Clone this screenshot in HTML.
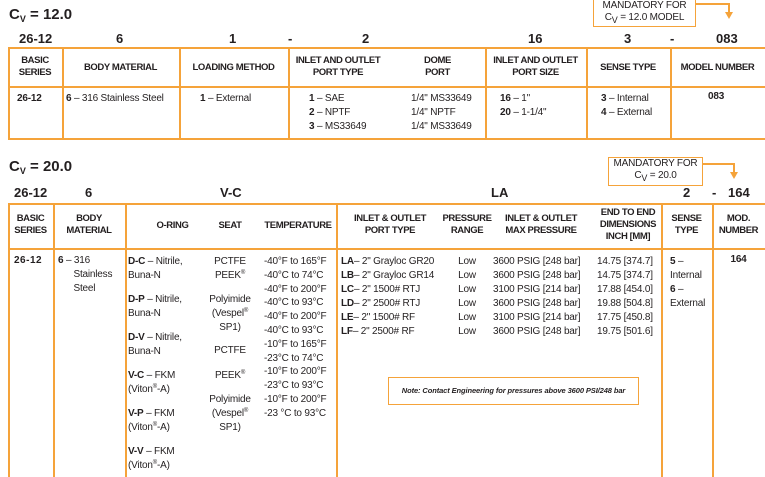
<!DOCTYPE html>
<html><head><meta charset="utf-8">
<style>
body{margin:0;background:#fff;}
#c{position:relative;width:765px;height:477px;overflow:hidden;font-family:"Liberation Sans",sans-serif;color:#231f20;font-size:10px;letter-spacing:-0.2px;}
.t{position:absolute;white-space:nowrap;line-height:14px;}
.b{font-weight:bold;}
.hd{font-weight:bold;font-size:9.5px;letter-spacing:-0.4px;}
.c{text-align:center;}
.h{position:absolute;background:#f5a33a;height:1.5px;}
.v{position:absolute;background:#f5a33a;width:1.5px;}
.big{font-size:15px;font-weight:bold;letter-spacing:0;}
.code{font-size:13px;font-weight:bold;letter-spacing:0;}
sub{font-size:9px;vertical-align:-3px;line-height:0;}
sup{font-size:6px;vertical-align:4px;line-height:0;}
</style></head><body><div id="c">

<div class="t big" style="left:9px;top:6px;line-height:18px;">C<sub>V</sub> = 12.0</div>
<div class="t code" style="left:19px;top:32px;">26-12</div>
<div class="t code" style="left:116px;top:32px;">6</div>
<div class="t code" style="left:229px;top:32px;">1</div>
<div class="t code" style="left:288px;top:32px;">-</div>
<div class="t code" style="left:362px;top:32px;">2</div>
<div class="t code" style="left:528px;top:32px;">16</div>
<div class="t code" style="left:624px;top:32px;">3</div>
<div class="t code" style="left:670px;top:32px;">-</div>
<div class="t code" style="left:716px;top:32px;">083</div>

<div style="position:absolute;left:593px;top:-2px;width:103px;height:29px;border:1.5px solid #f5a33a;box-sizing:border-box;"></div>
<div class="t c" style="left:593px;top:0px;width:103px;line-height:12px;">MANDATORY FOR<br>C<sub>V</sub> = 12.0 MODEL</div>
<div class="h" style="left:696px;top:3px;width:33px;"></div>
<div class="v" style="left:728px;top:3px;height:10px;"></div>
<div style="position:absolute;left:725px;top:12px;width:0;height:0;border-left:4px solid transparent;border-right:4px solid transparent;border-top:7px solid #f5a33a;"></div>

<div class="h" style="left:8px;top:47px;width:757px;"></div>
<div class="h" style="left:8px;top:86px;width:757px;"></div>
<div class="h" style="left:8px;top:138px;width:757px;"></div>
<div class="v" style="left:8px;top:47px;height:92px;"></div>
<div class="v" style="left:62px;top:47px;height:92px;"></div>
<div class="v" style="left:179px;top:47px;height:92px;"></div>
<div class="v" style="left:288px;top:47px;height:92px;"></div>
<div class="v" style="left:485px;top:47px;height:92px;"></div>
<div class="v" style="left:586px;top:47px;height:92px;"></div>
<div class="v" style="left:670px;top:47px;height:92px;"></div>

<div class="t hd c" style="left:8px;top:55px;width:54px;line-height:12px;">BASIC<br>SERIES</div>
<div class="t hd c" style="left:62px;top:61px;width:117px;">BODY MATERIAL</div>
<div class="t hd c" style="left:179px;top:61px;width:109px;">LOADING METHOD</div>
<div class="t hd c" style="left:288px;top:55px;width:100px;line-height:12px;">INLET AND OUTLET<br>PORT TYPE</div>
<div class="t hd c" style="left:390px;top:55px;width:95px;line-height:12px;">DOME<br>PORT</div>
<div class="t hd c" style="left:485px;top:55px;width:101px;line-height:12px;">INLET AND OUTLET<br>PORT SIZE</div>
<div class="t hd c" style="left:586px;top:61px;width:84px;">SENSE TYPE</div>
<div class="t hd c" style="left:670px;top:61px;width:95px;">MODEL NUMBER</div>

<div class="t b" style="left:17px;top:92px;">26-12</div>
<div class="t" style="left:66px;top:92px;"><b>6</b> &ndash; 316 Stainless Steel</div>
<div class="t" style="left:200px;top:92px;"><b>1</b> &ndash; External</div>
<div class="t" style="left:309px;top:92px;"><b>1</b> &ndash; SAE<br><b>2</b> &ndash; NPTF<br><b>3</b> &ndash; MS33649</div>
<div class="t" style="left:411px;top:92px;">1/4" MS33649<br>1/4" NPTF<br>1/4" MS33649</div>
<div class="t" style="left:500px;top:92px;"><b>16</b> &ndash; 1"<br><b>20</b> &ndash; 1-1/4"</div>
<div class="t" style="left:601px;top:92px;"><b>3</b> &ndash; Internal<br><b>4</b> &ndash; External</div>
<div class="t b" style="left:708px;top:90px;">083</div>

<div class="t big" style="left:9px;top:158px;line-height:18px;">C<sub>V</sub> = 20.0</div>
<div class="t code" style="left:14px;top:186px;">26-12</div>
<div class="t code" style="left:85px;top:186px;">6</div>
<div class="t code" style="left:220px;top:186px;">V-C</div>
<div class="t code" style="left:491px;top:186px;">LA</div>
<div class="t code" style="left:683px;top:186px;">2</div>
<div class="t code" style="left:712px;top:186px;">-</div>
<div class="t code" style="left:728px;top:186px;">164</div>

<div style="position:absolute;left:608px;top:157px;width:95px;height:29px;border:1.5px solid #f5a33a;box-sizing:border-box;"></div>
<div class="t c" style="left:608px;top:158px;width:95px;line-height:12px;">MANDATORY FOR<br>C<sub>V</sub> = 20.0</div>
<div class="h" style="left:702px;top:163px;width:32px;"></div>
<div class="v" style="left:733px;top:163px;height:10px;"></div>
<div style="position:absolute;left:730px;top:172px;width:0;height:0;border-left:4px solid transparent;border-right:4px solid transparent;border-top:7px solid #f5a33a;"></div>

<div class="h" style="left:8px;top:203px;width:757px;"></div>
<div class="h" style="left:8px;top:248px;width:757px;"></div>
<div class="v" style="left:8px;top:203px;height:274px;"></div>
<div class="v" style="left:53px;top:203px;height:274px;"></div>
<div class="v" style="left:125px;top:203px;height:274px;"></div>
<div class="v" style="left:336px;top:203px;height:274px;"></div>
<div class="v" style="left:661px;top:203px;height:274px;"></div>
<div class="v" style="left:712px;top:203px;height:274px;"></div>

<div class="t hd c" style="left:8px;top:213px;width:45px;line-height:12px;">BASIC<br>SERIES</div>
<div class="t hd c" style="left:53px;top:213px;width:72px;line-height:12px;">BODY<br>MATERIAL</div>
<div class="t hd c" style="left:125px;top:219px;width:95px;">O-RING</div>
<div class="t hd c" style="left:205px;top:219px;width:50px;">SEAT</div>
<div class="t hd c" style="left:262px;top:219px;width:72px;">TEMPERATURE</div>
<div class="t hd c" style="left:340px;top:213px;width:100px;line-height:12px;">INLET &amp; OUTLET<br>PORT TYPE</div>
<div class="t hd c" style="left:439px;top:213px;width:56px;line-height:12px;">PRESSURE<br>RANGE</div>
<div class="t hd c" style="left:495px;top:213px;width:92px;line-height:12px;">INLET &amp; OUTLET<br>MAX PRESSURE</div>
<div class="t hd c" style="left:594px;top:207px;width:68px;line-height:12px;">END TO END<br>DIMENSIONS<br>INCH [MM]</div>
<div class="t hd c" style="left:661px;top:213px;width:51px;line-height:12px;">SENSE<br>TYPE</div>
<div class="t hd c" style="left:712px;top:213px;width:53px;line-height:12px;">MOD.<br>NUMBER</div>

<div class="t b" style="left:14px;top:254px;letter-spacing:0.5px;">26-12</div>
<div class="t" style="left:58px;top:254px;"><b>6</b> &ndash; 316<br>&nbsp;&nbsp;&nbsp;&nbsp;&nbsp;&nbsp;Stainless<br>&nbsp;&nbsp;&nbsp;&nbsp;&nbsp;&nbsp;Steel</div>

<div class="t" style="left:128px;top:255px;"><b>D-C</b> &ndash; Nitrile,<br>Buna-N</div>
<div class="t" style="left:128px;top:293px;"><b>D-P</b> &ndash; Nitrile,<br>Buna-N</div>
<div class="t" style="left:128px;top:331px;"><b>D-V</b> &ndash; Nitrile,<br>Buna-N</div>
<div class="t" style="left:128px;top:369px;"><b>V-C</b> &ndash; FKM<br>(Viton<sup>®</sup>-A)</div>
<div class="t" style="left:128px;top:407px;"><b>V-P</b> &ndash; FKM<br>(Viton<sup>®</sup>-A)</div>
<div class="t" style="left:128px;top:445px;"><b>V-V</b> &ndash; FKM<br>(Viton<sup>®</sup>-A)</div>

<div class="t c" style="left:203px;top:255px;width:54px;">PCTFE<br>PEEK<sup>®</sup></div>
<div class="t c" style="left:203px;top:293px;width:54px;">Polyimide<br>(Vespel<sup>®</sup><br>SP1)</div>
<div class="t c" style="left:203px;top:344px;width:54px;">PCTFE</div>
<div class="t c" style="left:203px;top:369px;width:54px;">PEEK<sup>®</sup></div>
<div class="t c" style="left:203px;top:393px;width:54px;">Polyimide<br>(Vespel<sup>®</sup><br>SP1)</div>

<div class="t" style="left:264px;top:255px;line-height:13.8px;">-40°F to 165°F<br>-40°C to 74°C<br>-40°F to 200°F<br>-40°C to 93°C<br>-40°F to 200°F<br>-40°C to 93°C<br>-10°F to 165°F<br>-23°C to 74°C<br>-10°F to 200°F<br>-23°C to 93°C<br>-10°F to 200°F<br>-23 °C to 93°C</div>

<div class="t" style="left:341px;top:255px;"><b>LA</b>&ndash; 2" Grayloc GR20<br><b>LB</b>&ndash; 2" Grayloc GR14<br><b>LC</b>&ndash; 2" 1500# RTJ<br><b>LD</b>&ndash; 2" 2500# RTJ<br><b>LE</b>&ndash; 2" 1500# RF<br><b>LF</b>&ndash; 2" 2500# RF</div>
<div class="t c" style="left:450px;top:255px;width:34px;">Low<br>Low<br>Low<br>Low<br>Low<br>Low</div>
<div class="t" style="left:493px;top:255px;">3600 PSIG [248 bar]<br>3600 PSIG [248 bar]<br>3100 PSIG [214 bar]<br>3600 PSIG [248 bar]<br>3100 PSIG [214 bar]<br>3600 PSIG [248 bar]</div>
<div class="t" style="left:597px;top:255px;">14.75 [374.7]<br>14.75 [374.7]<br>17.88 [454.0]<br>19.88 [504.8]<br>17.75 [450.8]<br>19.75 [501.6]</div>
<div class="t" style="left:670px;top:255px;"><b>5</b> &ndash;<br>Internal<br><b>6</b> &ndash;<br>External</div>
<div class="t b c" style="left:712px;top:253px;width:53px;">164</div>

<div style="position:absolute;left:388px;top:377px;width:251px;height:28px;border:1.5px solid #f5a33a;box-sizing:border-box;"></div>
<div class="t b c" style="left:388px;top:384px;width:251px;font-size:7.5px;font-style:italic;letter-spacing:-0.1px;">Note: Contact Engineering for pressures above 3600 PSI/248 bar</div>

</div></body></html>
